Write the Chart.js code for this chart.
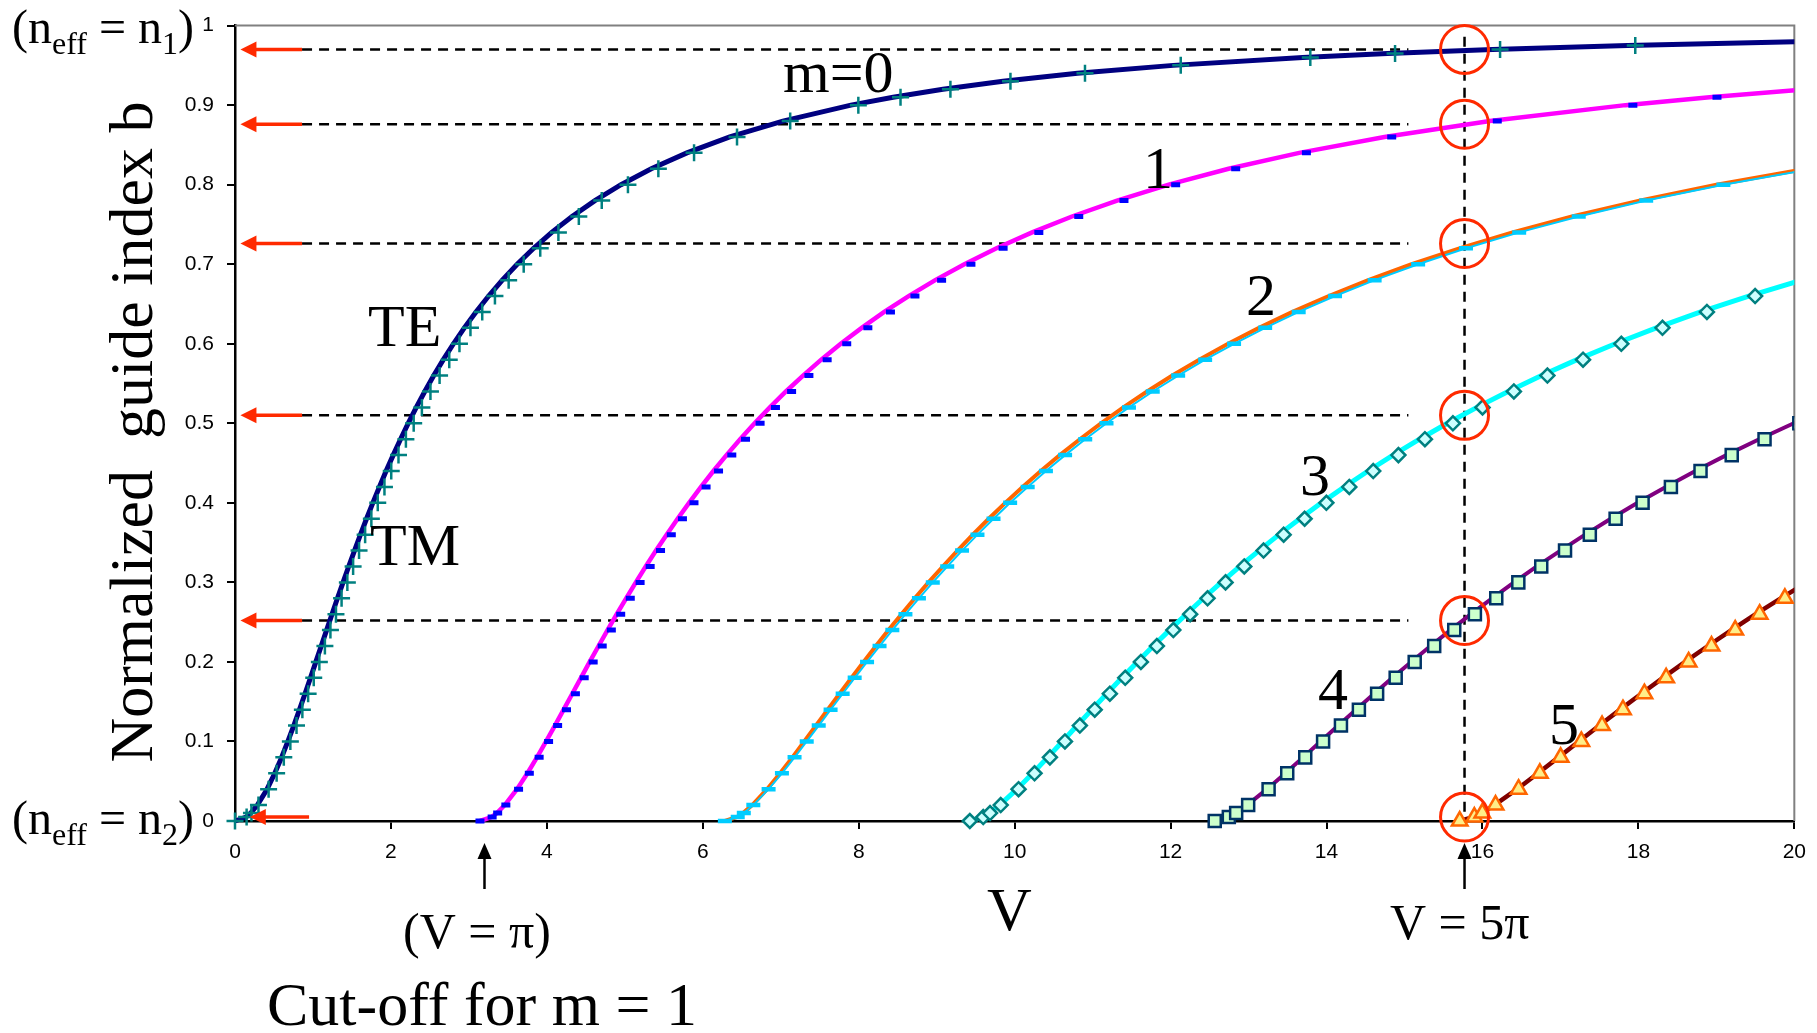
<!DOCTYPE html>
<html>
<head>
<meta charset="utf-8">
<script src="https://cdn.jsdelivr.net/npm/chart.js@4.4.1/dist/chart.umd.min.js"></script>
<style>
  html, body { margin: 0; padding: 0; background: #fff; }
  #wrap { width: 1817px; height: 1033px; position: relative; }
</style>
</head>
<body>
<div id="wrap"><canvas id="modeChart"></canvas></div>
<script>
// normalized guide index b, shared by every mode
const bGrid = [0, 0.005, 0.01, 0.02, 0.04, 0.06, 0.08, 0.10, 0.12, 0.14, 0.16, 0.18, 0.20, 0.22, 0.24, 0.26, 0.28, 0.30,
  0.32, 0.34, 0.36, 0.38, 0.40, 0.42, 0.44, 0.46, 0.48, 0.50, 0.52, 0.54, 0.56, 0.58, 0.60, 0.62, 0.64, 0.66, 0.68, 0.70,
  0.72, 0.74, 0.76, 0.78, 0.80, 0.82, 0.84, 0.86, 0.88, 0.90, 0.91, 0.92, 0.93, 0.94, 0.95, 0.96, 0.965, 0.97, 0.975, 0.98];

// V values of the TE curves (solid lines)
const teV0 = [0, 0.142, 0.201, 0.287, 0.411, 0.510, 0.598, 0.678, 0.754, 0.827, 0.898, 0.968, 1.037, 1.106, 1.175, 1.244,
  1.314, 1.386, 1.458, 1.533, 1.609, 1.687, 1.768, 1.852, 1.938, 2.029, 2.123, 2.221, 2.325, 2.434, 2.549, 2.672, 2.802,
  2.941, 3.091, 3.253, 3.428, 3.619, 3.830, 4.062, 4.323, 4.616, 4.951, 5.339, 5.796, 6.346, 7.027, 7.900, 8.441, 9.080,
  9.850, 10.805, 12.033, 13.694, 14.781, 16.128, 17.861, 20.208];
const teV1 = [3.142, 3.291, 3.359, 3.460, 3.617, 3.751, 3.873, 3.990, 4.103, 4.215, 4.326, 4.437, 4.549, 4.663, 4.778,
  4.896, 5.017, 5.141, 5.268, 5.400, 5.536, 5.677, 5.824, 5.977, 6.136, 6.304, 6.479, 6.664, 6.860, 7.066, 7.286, 7.519,
  7.769, 8.038, 8.327, 8.640, 8.981, 9.355, 9.767, 10.224, 10.735, 11.314, 11.976, 12.744, 13.650, 14.743, 16.096,
  17.834, 18.913, 20.187];
const teV2 = [6.283, 6.441, 6.516, 6.634, 6.824, 6.991, 7.149, 7.301, 7.452, 7.602, 7.754, 7.906, 8.062, 8.220, 8.382,
  8.548, 8.719, 8.895, 9.078, 9.267, 9.463, 9.667, 9.879, 10.102, 10.335, 10.579, 10.836, 11.107, 11.394, 11.698, 12.022,
  12.367, 12.737, 13.134, 13.563, 14.028, 14.535, 15.091, 15.704, 16.385, 17.148, 18.012, 19.001, 20.149];
const teV3 = [9.425, 9.590, 9.674, 9.807, 10.030, 10.231, 10.424, 10.613, 10.801, 10.990, 11.181, 11.376, 11.574, 11.777,
  11.986, 12.200, 12.421, 12.650, 12.888, 13.134, 13.390, 13.657, 13.935, 14.227, 14.533, 14.854, 15.193, 15.550, 15.929,
  16.330, 16.758, 17.214, 17.704, 18.230, 18.799, 19.416, 20.089];
const teV4 = [12.566, 12.740, 12.831, 12.981, 13.237, 13.472, 13.699, 13.924, 14.150, 14.378, 14.609, 14.845, 15.086,
  15.334, 15.589, 15.852, 16.124, 16.405, 16.697, 17.001, 17.317, 17.646, 17.991, 18.352, 18.731, 19.129, 19.549, 19.993,
  20.463];
const teV5 = [15.708, 15.889, 15.988, 16.154, 16.443, 16.712, 16.975, 17.236, 17.499, 17.765, 18.037, 18.314, 18.599,
  18.891, 19.193, 19.504, 19.826, 20.160];

// V values of the TM markers (sit just right of the TE lines)
const tmV0 = [0, 0.149, 0.211, 0.301, 0.431, 0.534, 0.626, 0.710, 0.789, 0.864, 0.938, 1.010, 1.082, 1.153, 1.224, 1.295,
  1.367, 1.441, 1.515, 1.591, 1.669, 1.749, 1.831, 1.917, 2.004, 2.097, 2.192, 2.292, 2.397, 2.507, 2.624, 2.748, 2.879,
  3.020, 3.171, 3.334, 3.510, 3.703, 3.915, 4.148, 4.410, 4.704, 5.040, 5.430, 5.888, 6.439, 7.121, 7.995, 8.536, 9.176,
  9.946, 10.902, 12.130, 13.792, 14.879, 16.226, 17.960, 20.307];
const tmV1 = [3.142, 3.298, 3.369, 3.474, 3.637, 3.775, 3.901, 4.022, 4.138, 4.252, 4.366, 4.479, 4.594, 4.710, 4.827,
  4.947, 5.070, 5.196, 5.325, 5.458, 5.596, 5.739, 5.887, 6.042, 6.202, 6.372, 6.548, 6.735, 6.932, 7.139, 7.361, 7.595,
  7.846, 8.117, 8.407, 8.721, 9.063, 9.439, 9.852, 10.310, 10.822, 11.402, 12.065, 12.835, 13.742, 14.836, 16.190,
  17.929, 19.008, 20.283];
const tmV2 = [6.283, 6.448, 6.526, 6.648, 6.844, 7.015, 7.177, 7.333, 7.487, 7.639, 7.794, 7.948, 8.107, 8.267, 8.431,
  8.599, 8.772, 8.950, 9.135, 9.325, 9.523, 9.729, 9.942, 10.167, 10.401, 10.647, 10.905, 11.178, 11.466, 11.771, 12.097,
  12.443, 12.814, 13.213, 13.643, 14.109, 14.617, 15.175, 15.789, 16.471, 17.235, 18.100, 19.090, 20.240];
const tmV3 = [9.425, 9.597, 9.684, 9.821, 10.050, 10.255, 10.452, 10.645, 10.836, 11.027, 11.221, 11.418, 11.619, 11.824,
  12.035, 12.251, 12.474, 12.705, 12.945, 13.192, 13.450, 13.719, 13.998, 14.292, 14.599, 14.922, 15.262, 15.621, 16.001,
  16.403, 16.833, 17.290, 17.781, 18.309, 18.879, 19.497, 20.171];
const tmV4 = [12.566, 12.747, 12.841, 12.995, 13.257, 13.496, 13.727, 13.956, 14.185, 14.415, 14.649, 14.887, 15.131,
  15.381, 15.638, 15.903, 16.177, 16.460, 16.754, 17.059, 17.377, 17.708, 18.054, 18.417, 18.797, 19.197, 19.618, 20.064,
  20.535];
const tmV5 = [15.708, 15.896, 15.998, 16.168, 16.463, 16.736, 17.003, 17.268, 17.534, 17.802, 18.077, 18.356, 18.644,
  18.938, 19.242, 19.555, 19.879, 20.215];

// b of each mode at V = 5π (arrows, dashed guides, circles)
const levelB = [0.970, 0.876, 0.726, 0.510, 0.252, 0.005];
const markV = 15.77;   // V = 5π line as drawn
const piV = 3.2;       // V = π arrow

const pts = vs => vs.map((v, i) => ({ x: v, y: bGrid[i] }));
const RED = '#FF2A00';
const SERIF = '"Liberation Serif", "Times New Roman", serif';

const clipArea = { left: 10, top: 0, right: 0, bottom: 10 };

function teLine(vs, color, width) {
  return { data: pts(vs), showLine: true, borderColor: color, borderWidth: width, pointRadius: 0,
    tension: 0, order: 2, clip: clipArea };
}
function tmMarks(vs, style, radius, border, fill, bw, extra) {
  return Object.assign({ data: pts(vs), showLine: false, pointStyle: style, pointRadius: radius,
    pointBorderColor: border, pointBackgroundColor: fill, pointBorderWidth: bw, order: 1, clip: clipArea }, extra || {});
}

function subText(ctx, x, y, parts, big, small) {
  let cx = x;
  parts.forEach(([t, sub]) => {
    ctx.font = (sub ? small : big) + 'px ' + SERIF;
    ctx.fillText(t, cx, sub ? y + 11 : y);
    cx += ctx.measureText(t).width;
  });
}

const overlay = {
  id: 'overlay',
  beforeDatasetsDraw(chart) {
    const { ctx, scales: { x, y }, chartArea: a } = chart;
    ctx.save();
    // gray frame top / right
    ctx.strokeStyle = '#808080';
    ctx.lineWidth = 2;
    ctx.beginPath();
    ctx.moveTo(a.left, a.top); ctx.lineTo(a.right, a.top); ctx.lineTo(a.right, a.bottom);
    ctx.stroke();
    // dashed guides
    ctx.strokeStyle = '#000';
    ctx.lineWidth = 2.5;
    ctx.setLineDash([10, 7]);
    levelB.slice(0, 5).forEach(b => {
      const py = y.getPixelForValue(b);
      ctx.beginPath(); ctx.moveTo(x.getPixelForValue(0.86), py); ctx.lineTo(x.getPixelForValue(15.05), py); ctx.stroke();
    });
    const vx = x.getPixelForValue(markV);
    ctx.beginPath(); ctx.moveTo(vx, y.getPixelForValue(0.986)); ctx.lineTo(vx, a.bottom); ctx.stroke();
    ctx.restore();
  },
  afterDatasetsDraw(chart) {
    const { ctx, scales: { x, y }, chartArea: a } = chart;
    ctx.save();
    // red arrows at the left
    ctx.strokeStyle = RED; ctx.fillStyle = RED; ctx.lineWidth = 3.5;
    levelB.forEach((b, i) => {
      const py = y.getPixelForValue(b);
      const tip = x.getPixelForValue(i === 5 ? 0.19 : 0.07);
      const tail = x.getPixelForValue(i === 5 ? 0.95 : 0.86);
      ctx.beginPath(); ctx.moveTo(tail, py); ctx.lineTo(tip + 10, py); ctx.stroke();
      ctx.beginPath(); ctx.moveTo(tip, py); ctx.lineTo(tip + 16, py - 8); ctx.lineTo(tip + 16, py + 8); ctx.closePath(); ctx.fill();
    });
    // circles at V = 5π
    ctx.lineWidth = 3;
    levelB.forEach(b => {
      ctx.beginPath(); ctx.arc(x.getPixelForValue(markV), y.getPixelForValue(b), 24, 0, Math.PI * 2); ctx.stroke();
    });
    // black up arrows under the axis
    ctx.strokeStyle = '#000'; ctx.fillStyle = '#000'; ctx.lineWidth = 2.5;
    [piV, markV].forEach(v => {
      const px = x.getPixelForValue(v);
      const tip = a.bottom + 22, tail = a.bottom + 68;
      ctx.beginPath(); ctx.moveTo(px, tail); ctx.lineTo(px, tip + 10); ctx.stroke();
      ctx.beginPath(); ctx.moveTo(px, tip); ctx.lineTo(px - 7, tip + 16); ctx.lineTo(px + 7, tip + 16); ctx.closePath(); ctx.fill();
    });
    ctx.restore();
  },
  afterDraw(chart) {
    const { ctx } = chart;
    ctx.save();
    ctx.fillStyle = '#000';
    ctx.textBaseline = 'alphabetic';
    ctx.textAlign = 'left';
    subText(ctx, 12, 43, [['(n', false], ['eff', true], [' = n', false], ['1', true], [')', false]], 48, 32);
    subText(ctx, 12, 834, [['(n', false], ['eff', true], [' = n', false], ['2', true], [')', false]], 48, 32);
    ctx.font = '50px ' + SERIF;
    ctx.fillText('(V = \u03c0)', 403, 948);
    ctx.fillText('V = 5\u03c0', 1390, 939);
    ctx.font = '62px ' + SERIF;
    ctx.fillText('Cut-off for m = 1', 267, 1025);
    ctx.fillText('V', 987, 930);
    ctx.font = '60px ' + SERIF;
    ctx.fillText('m=0', 783, 92);
    ctx.fillText('1', 1143, 188);
    ctx.fillText('2', 1246, 315);
    ctx.fillText('3', 1300, 495);
    ctx.fillText('4', 1318, 709);
    ctx.fillText('5', 1549, 744);
    ctx.fillText('TE', 368, 346);
    ctx.fillText('TM', 370, 565);
    // y axis title
    ctx.translate(152, 432);
    ctx.rotate(-Math.PI / 2);
    ctx.textAlign = 'center';
    ctx.font = '62px ' + SERIF;
    ctx.fillText('Normalized  guide index b', 0, 0);
    ctx.restore();
  }
};

new Chart(document.getElementById('modeChart'), {
  type: 'scatter',
  data: {
    datasets: [
      teLine(teV0, '#000080', 5),
      teLine(teV1, '#FF00FF', 4.5),
      teLine(teV2, '#FF6600', 4),
      teLine(teV3, '#00FFFF', 5),
      teLine(teV4, '#800080', 4),
      teLine(teV5, '#800000', 4.5),
      tmMarks(tmV0, 'cross', 8.5, '#008080', '#008080', 2.5),
      tmMarks(tmV1, 'line', 4.5, '#0000FF', '#0000FF', 5),
      tmMarks(tmV2, 'line', 7, '#00CCFF', '#00CCFF', 4.5, { showLine: true, borderColor: '#00CCFF', borderWidth: 2, tension: 0 }),
      tmMarks(tmV3, 'rectRot', 7, '#008080', '#CCFFFF', 2.5),
      tmMarks(tmV4, 'rect', 8.5, '#003366', '#CCFFCC', 2.5),
      tmMarks(tmV5, 'triangle', 9, '#FF6600', '#FFEE88', 2.5)
    ]
  },
  options: {
    responsive: true,
    maintainAspectRatio: false,
    animation: false,
    layout: { padding: { left: 0, right: 22, top: 23, bottom: 0 } },
    plugins: { legend: { display: false }, tooltip: { enabled: false } },
    scales: {
      x: {
        type: 'linear', min: 0, max: 20,
        ticks: { stepSize: 2, color: '#000', padding: 11, font: { family: '"Liberation Sans", Arial', size: 21 } },
        grid: { drawOnChartArea: false, drawTicks: true, tickLength: 8, color: '#000', lineWidth: 2 },
        border: { display: true, color: '#000', width: 2.5 },
        afterFit(s) { s.height = 1033 - 821; }
      },
      y: {
        type: 'linear', min: 0, max: 1,
        ticks: {
          stepSize: 0.1, color: '#000', padding: 13,
          font: { family: '"Liberation Sans", Arial', size: 21 },
          callback: v => (v === 0 || v === 1) ? String(v) : v.toFixed(1)
        },
        grid: { drawOnChartArea: false, drawTicks: true, tickLength: 8, color: '#000', lineWidth: 2 },
        border: { display: true, color: '#000', width: 2.5 },
        afterFit(s) { s.width = 235; }
      }
    }
  },
  plugins: [overlay]
});
</script>
</body>
</html>
